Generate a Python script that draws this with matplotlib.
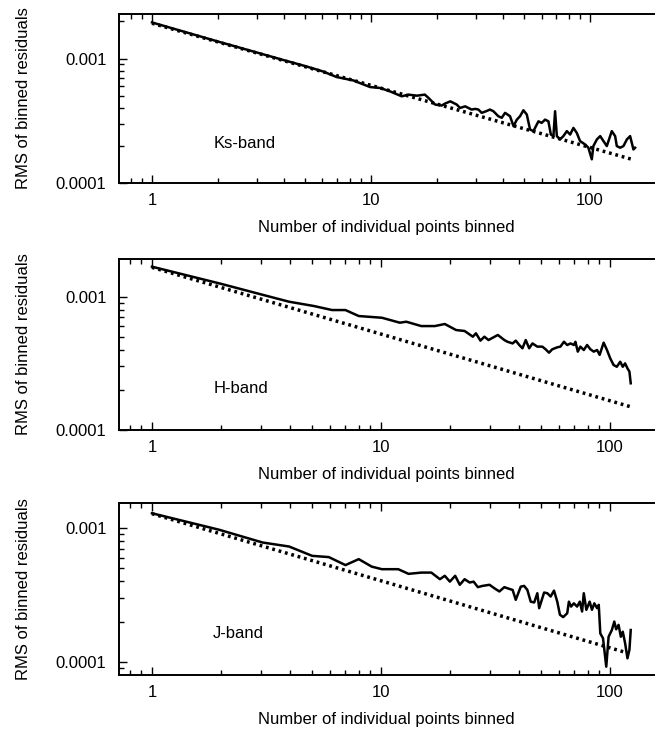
import matplotlib
matplotlib.use("Agg")
import matplotlib.pyplot as plt
import numpy as np
from matplotlib.ticker import FixedLocator, LogLocator, NullFormatter

plt.rcParams['font.family'] = ['Liberation Sans', 'DejaVu Sans']
plt.rcParams['font.size'] = 12

# measured RMS of binned residuals (units of 1e-4)
ks_n = [1, 2, 3, 4, 5, 6, 6.97, 8.3, 8.9, 9.9, 11.0, 12.2, 13.8, 14.8, 16.2, 17.6, 18.3, 19.6, 21.0, 21.8,
        23.0, 24.6, 25.5, 26.9, 27.8, 28.8, 29.9, 30.9, 32.0, 33.5, 34.9, 36.2, 38.1, 39.5, 40.9, 43.1, 44.7,
        46.3, 47.9, 49.6, 51.4, 53.2, 55.1, 58.1, 60.1, 62.3, 64.5, 66.2, 68.0, 69.2, 70.5, 72.9, 75.5, 78.3,
        81.1, 83.9, 86.9, 90.0, 94.9, 98.2, 101.8, 103.5, 107.4, 111.2, 115.1, 119.2, 125.6, 130.1, 132.4,
        137.1, 142.0, 147.2, 152.3, 155.0, 157.7, 160.4]
ks_rms = [19.5, 13.7, 11.2, 9.7, 8.7, 7.9, 7.1, 6.67, 6.35, 5.9, 5.8, 5.45, 4.97, 5.13, 5.03, 5.13, 4.82, 4.27,
          4.19, 4.35, 4.53, 4.27, 4.01, 4.13, 4.01, 3.89, 3.94, 3.89, 3.66, 3.77, 3.89, 3.77, 3.44, 3.34, 3.66,
          3.44, 2.86, 3.23, 3.44, 3.84, 3.55, 2.69, 2.61, 3.13, 3.04, 3.23, 3.13, 2.45, 2.38, 3.77, 2.38, 2.24,
          2.38, 2.61, 2.45, 2.77, 2.53, 2.17, 2.04, 1.92, 1.55, 1.98, 2.24, 2.38, 2.17, 1.98, 2.61, 2.38, 1.98,
          1.92, 1.98, 2.24, 2.38, 2.10, 1.86, 1.92]

h_n = [1, 2, 3, 3.97, 5.1, 6.12, 7.0, 8.0, 10.1, 12.1, 12.9, 15.0, 17.2, 19.0, 21.3, 23.2, 25.2, 26.0, 27.2,
       28.3, 29.5, 32.4, 34.6, 35.7, 37.6, 38.8, 40.2, 41.5, 42.9, 44.4, 45.9, 48.2, 50.7, 52.4, 54.2, 56.0,
       58.9, 60.8, 63.0, 65.1, 67.3, 69.6, 70.7, 72.4, 74.3, 76.9, 79.5, 82.2, 85.0, 87.9, 90.2, 93.9, 97.1,
       100.3, 103.8, 107.2, 110.9, 113.8, 116.5, 119.3, 121.7, 123.3]
h_rms = [16.8, 12.5, 10.4, 9.17, 8.51, 7.94, 7.94, 7.16, 6.95, 6.38, 6.49, 6.02, 6.02, 6.24, 5.62, 5.53, 5.01,
         5.31, 4.68, 5.01, 4.73, 5.16, 4.73, 4.59, 4.46, 4.68, 4.34, 4.10, 4.73, 4.10, 4.46, 4.22, 4.22, 4.03,
         3.80, 4.03, 4.17, 4.22, 4.59, 4.34, 4.46, 4.34, 4.59, 3.87, 4.22, 3.98, 4.34, 4.03, 3.87, 3.98, 3.66,
         4.52, 3.98, 3.45, 3.07, 2.98, 3.25, 2.98, 3.16, 2.90, 2.74, 2.24]

j_n = [1, 1.97, 3.04, 3.97, 5.01, 5.92, 7.0, 8.0, 9.12, 10.1, 11.9, 13.2, 15.0, 16.6, 18.1, 19.0, 20.0, 21.1,
       22.1, 23.2, 24.4, 25.4, 26.5, 27.8, 29.8, 31.3, 32.9, 34.6, 35.7, 37.6, 38.8, 40.8, 42.2, 43.6, 45.1,
       46.7, 48.2, 49.1, 51.6, 53.3, 55.1, 57.0, 58.9, 60.5, 62.5, 65.1, 66.2, 67.7, 69.6, 71.9, 73.9, 75.6,
       76.9, 78.9, 81.6, 83.5, 85.5, 87.9, 89.4, 90.8, 93.3, 96.4, 98.7, 102.0, 104.5, 106.5, 109.1, 111.6,
       113.8, 116.5, 119.3, 121.7, 123.3]
j_rms = [12.9, 9.71, 7.81, 7.29, 6.21, 6.08, 5.30, 5.87, 5.16, 4.94, 4.94, 4.56, 4.66, 4.66, 4.16, 4.41, 3.99,
         4.41, 3.78, 4.16, 3.93, 3.99, 3.63, 3.71, 3.78, 3.56, 3.37, 3.63, 3.56, 3.46, 2.92, 3.66, 3.71, 3.46,
         2.83, 2.79, 3.27, 2.53, 3.31, 3.27, 3.09, 3.42, 2.83, 2.26, 2.17, 2.32, 2.83, 2.60, 2.75, 2.60, 2.83,
         2.39, 3.27, 2.46, 2.83, 2.46, 2.75, 2.53, 2.68, 1.64, 1.51, 0.927, 1.55, 1.74, 2.01, 1.76, 1.90, 1.55,
         1.69, 1.39, 1.07, 1.24, 1.74]

# white noise expectation (end points, units of 1e-4)
ks_white_n = [1, 155]
ks_white = [19.2, 1.55]
h_white_n = [1, 122]
h_white = [16.6, 1.50]
j_white_n = [1, 118]
j_white = [12.8, 1.18]

bands = ["Ks-band", "H-band", "J-band"]

panels = [
    (ks_n, ks_rms, ks_white_n, ks_white, [0.1806, 0.749, 0.812, 0.2318], (0.707, 196), (1.0e-4, 2.28e-3), 0.234),
    (h_n, h_rms, h_white_n, h_white, [0.1806, 0.4102, 0.812, 0.2346], (0.718, 156), (1.0e-4, 1.92e-3), 0.244),
    (j_n, j_rms, j_white_n, j_white, [0.1806, 0.0741, 0.812, 0.236], (0.718, 156), (8.04e-5, 1.54e-3), 0.242),
]

fig = plt.figure(figsize=(6.59, 7.29), dpi=100)

for band, (n, rms, wn, w, pos, xlim, ylim, ty) in zip(bands, panels):
    ax = fig.add_axes(pos)
    ax.plot(n, np.array(rms) * 1e-4, color='black', lw=1.8)
    ax.plot(wn, np.array(w) * 1e-4, color='black', lw=2.5, linestyle=(0, (0.8, 1.1)),
            dash_capstyle='butt')
    ax.set_xscale('log')
    ax.set_yscale('log')
    ax.set_xlim(*xlim)
    ax.set_ylim(*ylim)

    ax.xaxis.set_major_locator(FixedLocator([1, 10, 100]))
    ax.set_xticklabels(["1", "10", "100"])
    ax.xaxis.set_minor_locator(LogLocator(base=10, subs=np.arange(2, 10)))
    ax.xaxis.set_minor_formatter(NullFormatter())
    ax.yaxis.set_major_locator(FixedLocator([1e-4, 1e-3]))
    ax.set_yticklabels(["0.0001", "0.001"])
    ax.yaxis.set_minor_locator(LogLocator(base=10, subs=np.arange(2, 10)))
    ax.yaxis.set_minor_formatter(NullFormatter())

    ax.spines['right'].set_visible(False)
    for s in ['left', 'bottom', 'top']:
        ax.spines[s].set_linewidth(1.4)
    ax.tick_params(which='both', direction='in', top=True, right=False, width=1.0)
    ax.tick_params(which='major', length=6, pad=7.5)
    ax.tick_params(which='minor', length=3.5)
    ax.tick_params(axis='y', which='major', pad=9)

    ax.set_xlabel("Number of individual points binned", labelpad=8.5)
    ax.set_ylabel("RMS of binned residuals", labelpad=18)
    ax.text(0.176, ty, band, transform=ax.transAxes, ha='left', va='center')

fig.savefig("out.png", dpi=100)
